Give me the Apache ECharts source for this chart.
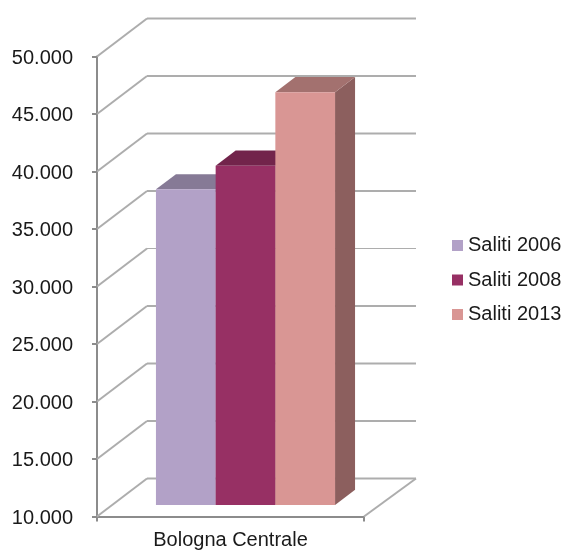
<!DOCTYPE html>
<html><head><meta charset="utf-8">
<style>html,body{margin:0;padding:0;background:#fff}#c{width:563px;height:550px}</style>
<script src="https://cdn.jsdelivr.net/npm/echarts@6/dist/echarts.min.js"></script>
</head><body><div id="c"></div>
<script>
const categories = ['Bologna Centrale'];
const saliti2006 = [37450];
const saliti2008 = [39500];
const saliti2013 = [45900];
const valueTicks = [10000,15000,20000,25000,30000,35000,40000,45000,50000];
const seriesNames = ['Saliti 2006','Saliti 2008','Saliti 2013'];

const FONT = '"Liberation Sans", Arial, sans-serif';
const WALL = {dx:50, dy:-38, rightDx:52};
const FRONT_PLANE = {dx:15, dy:-11.5};
const BAR_DEPTH = {dx:20, dy:-15.2};
const BAR_FRACTION = 59.7/267;
const GRAY = '#adadad';
const palette = [
  {front:'#b2a1c7', top:'#867a96', side:'#867a96'},
  {front:'#973064', top:'#72244b', side:'#72244b'},
  {front:'#d99694', top:'#a3716f', side:'#8c5f5e'}
];

function wallItem(params, api){
  const v = api.value(1);
  const cs = params.coordSys;
  const p = api.coord([0, v]);
  const y = p[1], x0 = cs.x, x1 = cs.x + cs.width;
  const style = {stroke:GRAY, lineWidth:v===30000?1:2, fill:null};
  const children = [
    {type:'polyline', shape:{points:[[x0,y],[x0+WALL.dx,y+WALL.dy]]}, style:{stroke:GRAY, lineWidth:2, fill:null}},
    {type:'polyline', shape:{points:[[x0+WALL.dx,y+WALL.dy],[x1+WALL.rightDx,y+WALL.dy]]}, style}
  ];
  if (v === valueTicks[0]) {
    children.push({type:'polyline', shape:{points:[[x1,y],[x1+WALL.rightDx,y+WALL.dy]]}, style});
  }
  return {type:'group', children};
}

function barRender(index){
  return function(params, api){
    const c = palette[index];
    const band = api.size([1,0])[0];
    const w = band*BAR_FRACTION;
    const top = api.coord([api.value(0), api.value(1)]);
    const base = api.coord([api.value(0), valueTicks[0]]);
    const x0 = top[0] - 1.5*w + index*w + FRONT_PLANE.dx;
    const x1 = x0 + w;
    const yT = top[1] + FRONT_PLANE.dy;
    const yB = base[1] + FRONT_PLANE.dy;
    const d = BAR_DEPTH;
    return {type:'group', children:[
      {type:'polygon', shape:{points:[[x1,yT],[x1+d.dx,yT+d.dy],[x1+d.dx,yB+d.dy],[x1,yB]]}, style:{fill:c.side}},
      {type:'polygon', shape:{points:[[x0,yT],[x0+d.dx,yT+d.dy],[x1+d.dx,yT+d.dy],[x1,yT]]}, style:{fill:c.top}},
      {type:'rect', shape:{x:x0,y:yT,width:w,height:yB-yT}, style:{fill:c.front}}
    ]};
  };
}

const barValues = [saliti2006, saliti2008, saliti2013];
const chart = echarts.init(document.getElementById('c'), null, {renderer:'canvas'});
chart.setOption({
  animation:false,
  backgroundColor:'#fff',
  grid:{left:97, top:56.5, width:267, height:460, containLabel:false, outerBoundsMode:'none'},
  legend:{
    data:seriesNames, orient:'vertical', left:452, top:234, padding:0, icon:'rect',
    itemWidth:11, itemHeight:11, itemGap:11.5, selectedMode:false,
    textStyle:{fontFamily:FONT, fontSize:20, color:'#1a1a1a', lineHeight:23}
  },
  xAxis:{
    type:'category', data:categories,
    axisLine:{show:true, lineStyle:{color:'#8c8c8c', width:2}},
    axisTick:{show:true, length:5, alignWithLabel:false, lineStyle:{color:'#8c8c8c', width:2}},
    axisLabel:{fontFamily:FONT, fontSize:20, color:'#1a1a1a', margin:14}
  },
  yAxis:{
    type:'value', min:10000, max:50000, interval:5000,
    splitLine:{show:false},
    axisLine:{show:true, lineStyle:{color:'#8c8c8c', width:2}},
    axisTick:{show:true, length:5, lineStyle:{color:'#8c8c8c', width:2}},
    axisLabel:{fontFamily:FONT, fontSize:20, color:'#1a1a1a', margin:24, verticalAlign:'top', lineHeight:3,
      formatter:v=>String(v).replace(/(\d)(\d{3})$/,'$1.$2')}
  },
  series:[
    {type:'custom', name:'walls', silent:true, z:1, clip:false, renderItem:wallItem,
     data:valueTicks.map(v=>[0,v]), encode:{x:0,y:1}},
    ...seriesNames.map((name,i)=>({
      type:'custom', name, z:2+i, clip:false, renderItem:barRender(i),
      itemStyle:{color:palette[i].front},
      data:barValues[i].map((v,k)=>[k,v]), encode:{x:0,y:1}
    }))
  ]
});
</script></body></html>
